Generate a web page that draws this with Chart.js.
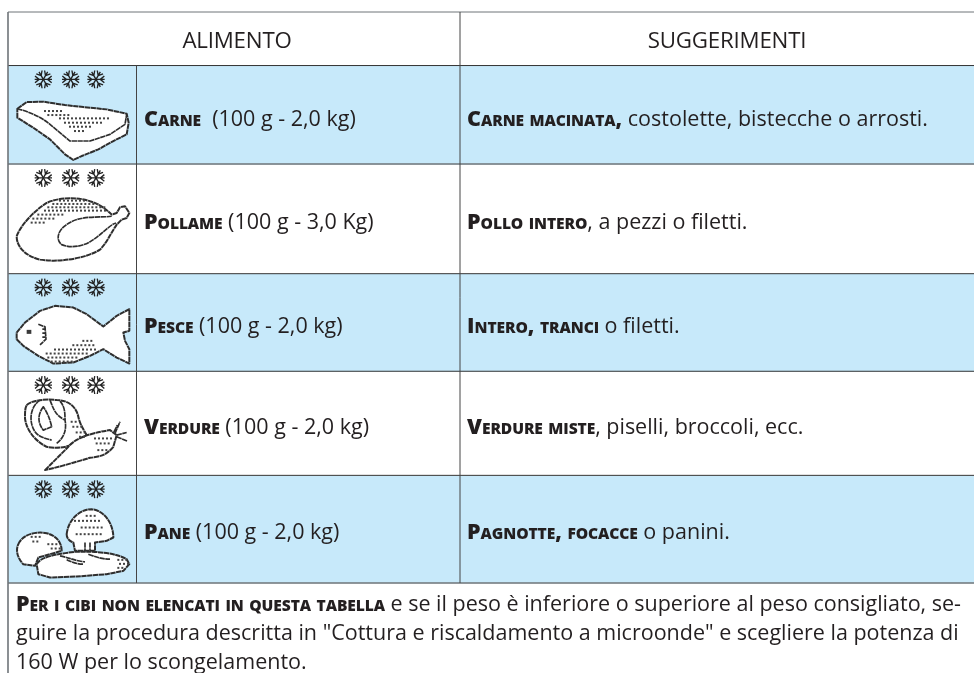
<!DOCTYPE html>
<html lang="it">
<head>
    <meta charset="UTF-8">
    <title>Scongelamento automatico</title>
    <script src="https://cdn.jsdelivr.net/npm/chart.js"></script>
    <style>
        html, body { margin: 0; padding: 0; background: #fff; overflow: hidden; }
        #tabella { display: block; }
    </style>
</head>
<body>
    <canvas id="tabella" width="974" height="673"></canvas>

    <script>
        // Table content
        const headers = ['ALIMENTO', 'SUGGERIMENTI'];
        const foodNames = ['Carne', 'Pollame', 'Pesce', 'Verdure', 'Pane'];
        const foodWeights = ['  (100 g - 2,0 kg)', ' (100 g - 3,0 Kg)', ' (100 g - 2,0 kg)', ' (100 g - 2,0 kg)', ' (100 g - 2,0 kg)'];
        const tipLeads = ['Carne macinata,', 'Pollo intero', 'Intero, tranci', 'Verdure miste', 'Pagnotte, focacce'];
        const tipRests = [' costolette, bistecche o arrosti.', ', a pezzi o filetti.', ' o filetti.', ', piselli, broccoli, ecc.', ' o panini.'];
        const noteLead = 'Per i cibi non elencati in questa tabella';
        const noteLines = [
            ' e se il peso è inferiore o superiore al peso consigliato, se-',
            'guire la procedura descritta in "Cottura e riscaldamento a microonde" e scegliere la potenza di',
            '160 W per lo scongelamento.'
        ];

        // Row heights (header, five foods, note) and column widths
        const rowHeights = [53.5, 98.5, 109.5, 97.5, 104, 107.5, 90];
        const columnWidths = [128.5, 323.5, 514];

        const BLUE = '#c7e9fa';
        const INK = '#231f20';
        const FONT = '"Open Sans", sans-serif';

        // Icons are traced at 3x, from the left of the first column and the top of the row
        const icons = [
            {
                fill: ['M22,128 L50,108 L100,107 L165,117 L220,123 L290,130 L350,143 L356,170 L350,205 L310,225 L265,250 L215,270 L190,282 L165,265 L120,220 L70,185 L22,155 Z'],
                lines: ['M22,128 C50,135 90,150 120,175 L180,225 L240,225 L300,205 L345,175 L350,145'],
                dots: [[135, 105, 155], [147, 115, 185], [157, 150, 295], [170, 165, 280], [182, 180, 250], [195, 195, 230]]
            },
            {
                fill: ['M20,215 C30,185 70,140 110,115 C140,100 200,95 240,110 C270,118 295,140 305,150 L320,145 L330,128 L345,125 L358,145 L350,160 L335,165 L320,180 C300,210 290,235 270,255 C230,280 150,295 90,285 C50,275 20,250 20,215 Z'],
                lines: ['M305,155 C270,160 210,150 170,180 C145,195 135,225 155,240 C190,255 230,240 250,225 C280,205 300,180 318,175'],
                dots: [[108, 150, 230], [118, 130, 270], [128, 115, 285], [138, 105, 290], [150, 85, 165], [162, 70, 135], [174, 65, 105]]
            },
            {
                fill: ['M20,175 L45,145 L90,110 L135,95 L190,100 L230,120 L280,157 L320,125 L358,105 L358,170 L340,175 L345,200 L358,225 L358,268 L320,250 L280,225 L240,245 L190,265 L130,268 L85,245 L40,215 L20,195 Z'],
                lines: ['M85,150 L105,158 L108,195 L90,212', 'M97,165 L107,165 M97,177 L107,177 M97,189 L107,189'],
                blocks: [[50, 167, 14, 12]],
                dots: [[200, 220, 245], [213, 190, 255], [226, 135, 260], [238, 110, 235], [250, 115, 210], [262, 125, 185]]
            },
            {
                fill: ['M50,100 C60,88 100,80 140,85 C180,85 200,110 205,135 C210,160 225,180 230,190 L190,215 C170,230 130,230 110,225 C80,210 50,180 45,140 C45,120 45,110 50,100 Z',
                       'M105,295 L175,225 C190,205 230,185 300,175 L320,190 L310,225 C290,250 270,255 240,258 C200,270 150,285 105,295 Z'],
                lines: ['M90,85 C60,105 55,150 75,180 C85,195 105,200 125,205', 'M100,105 C85,125 80,150 100,175 L125,165 C120,140 110,120 100,105 Z', 'M120,85 C130,110 135,130 165,145 C170,170 165,195 140,215',
                        'M150,88 C165,105 165,125 165,145', 'M315,185 L330,150 M320,190 L350,182 M320,195 L352,208 M312,180 L322,160'],
                dots: [[150, 185, 205], [165, 190, 215], [182, 200, 225], [195, 210, 230], [200, 255, 310], [215, 260, 300], [235, 265, 290]]
            },
            {
                fill: ['M25,205 C35,180 70,165 110,172 C140,180 155,200 155,225 L85,245 L75,270 L40,265 C25,250 15,225 25,205 Z',
                       'M170,175 C175,130 210,100 245,100 C285,105 310,145 310,185 L290,195 L255,200 L255,225 L195,225 L190,200 C175,195 170,185 170,175 Z',
                       'M80,265 C90,245 130,235 195,228 C260,225 320,232 350,250 L358,265 L340,285 L290,295 L200,302 L120,305 L85,295 Z'],
                lines: ['M225,200 L225,225 M240,200 L240,225', 'M150,240 C175,245 195,255 225,258', 'M170,252 C185,258 200,265 220,265', 'M235,235 C260,245 280,250 300,250'],
                dots: [[120, 230, 255], [135, 195, 275], [155, 215, 280], [175, 200, 275], [183, 65, 95], [197, 70, 90], [205, 115, 145], [218, 125, 150], [252, 325, 350], [264, 330, 355], [276, 325, 345]]
            }
        ];

        function setFont(ctx, weight, size, spacing) {
            ctx.font = weight + ' ' + size + 'px ' + FONT;
            ctx.letterSpacing = spacing + 'px';
        }

        // Plain run, returns the x where it ends
        function plainRun(ctx, text, x, y) {
            setFont(ctx, 400, 21.5, 0);
            ctx.fillText(text, x, y);
            return x + ctx.measureText(text).width;
        }

        // Heavy small caps: capitals stay large, lowercase letters become small capitals
        function capsRun(ctx, text, x, y) {
            for (const ch of text) {
                const small = ch !== ch.toUpperCase();
                setFont(ctx, 800, small ? 15.6 : 21.5, small ? -0.1 : 0);
                const glyph = ch.toUpperCase();
                ctx.fillText(glyph, x, y);
                x += ctx.measureText(glyph).width;
            }
            return x;
        }

        function drawSnowflake(ctx, cx, cy) {
            ctx.lineWidth = 4;
            ctx.strokeStyle = '#222';
            for (let i = 0; i < 6; i++) {
                ctx.save();
                ctx.translate(cx, cy);
                ctx.rotate(i * Math.PI / 3 + Math.PI / 6);
                ctx.beginPath();
                ctx.moveTo(0, 0);
                ctx.lineTo(0, -26);
                ctx.moveTo(0, -13);
                ctx.lineTo(-10, -25);
                ctx.moveTo(0, -13);
                ctx.lineTo(10, -25);
                ctx.stroke();
                ctx.restore();
            }
        }

        function drawIcon(ctx, icon, left, top) {
            ctx.save();
            ctx.translate(left, top);
            ctx.scale(1 / 3, 1 / 3);
            [100, 182, 258].forEach(cx => drawSnowflake(ctx, cx, 40));
            ctx.strokeStyle = '#2e2e2e';
            ctx.lineWidth = 6;
            ctx.lineJoin = 'round';
            ctx.setLineDash([16, 1.5]);
            icon.fill.forEach(d => {
                const p = new Path2D(d);
                ctx.fillStyle = '#fff';
                ctx.fill(p);
                ctx.stroke(p);
            });
            ctx.lineWidth = 5;
            icon.lines.forEach(d => ctx.stroke(new Path2D(d)));
            ctx.setLineDash([]);
            ctx.fillStyle = '#3a3a3a';
            (icon.blocks || []).forEach(b => ctx.fillRect(b[0], b[1], b[2], b[3]));
            ctx.fillStyle = '#444';
            icon.dots.forEach(([y, from, to]) => {
                for (let x = from; x <= to; x += 12) {
                    ctx.fillRect(x - 3, y - 3, 6, 6);
                }
            });
            ctx.restore();
        }

        const tablePlugin = {
            id: 'tablePlugin',
            afterDatasetsDraw(chart) {
                const ctx = chart.ctx;
                const area = chart.chartArea;
                const y = chart.scales.y;

                let sum = 0;
                const edges = [0].concat(rowHeights.map(h => (sum += h)));
                const rowY = i => y.getPixelForValue(edges[i]);
                const total = columnWidths.reduce((a, b) => a + b, 0);
                const col1 = area.left + area.width * columnWidths[0] / total;
                const col2 = area.left + area.width * (columnWidths[0] + columnWidths[1]) / total;

                ctx.save();

                // Borders
                edges.slice(0, 7).forEach((e, i) => {
                    const py = rowY(i);
                    const grey = i === 0 || i === 2 || i === 6;
                    ctx.strokeStyle = grey ? '#6f7478' : '#333';
                    ctx.lineWidth = i === 6 || i === 2 ? 1.5 : 1;
                    ctx.beginPath();
                    ctx.moveTo(area.left, py);
                    ctx.lineTo(area.right, py);
                    ctx.stroke();
                });
                ctx.strokeStyle = '#6f7478';
                ctx.lineWidth = 1.6;
                ctx.beginPath();
                ctx.moveTo(area.left, area.top);
                ctx.lineTo(area.left, area.bottom);
                ctx.stroke();
                ctx.lineWidth = 1;
                ctx.strokeStyle = '#444';
                ctx.beginPath();
                ctx.moveTo(col1, rowY(1));
                ctx.lineTo(col1, rowY(6));
                ctx.moveTo(col2, rowY(0));
                ctx.lineTo(col2, rowY(6));
                ctx.stroke();

                // Icons
                icons.forEach((icon, i) => drawIcon(ctx, icon, 10, rowY(i + 1) + 0.5));

                // Header
                ctx.fillStyle = INK;
                ctx.textBaseline = 'alphabetic';
                ctx.textAlign = 'center';
                setFont(ctx, 400, 22.3, -0.2);
                ctx.fillText(headers[0], 237, rowY(0) + 36);
                ctx.fillText(headers[1], 727, rowY(0) + 36);
                ctx.textAlign = 'left';

                // Food rows
                const baselines = [60, 64.5, 59, 62.5, 63.5];
                foodNames.forEach((name, i) => {
                    const base = rowY(i + 1) + baselines[i];
                    const x = capsRun(ctx, name, col1 + 7.5, base);
                    plainRun(ctx, foodWeights[i], x, base);
                    const tx = capsRun(ctx, tipLeads[i], col2 + 7, base);
                    plainRun(ctx, tipRests[i], tx, base);
                });

                // Note under the table
                const noteY = rowY(6);
                const nx = capsRun(ctx, noteLead, area.left + 8, noteY + 28.3);
                plainRun(ctx, noteLines[0], nx, noteY + 28.3);
                plainRun(ctx, noteLines[1], area.left + 8, noteY + 57.3);
                plainRun(ctx, noteLines[2], area.left + 8, noteY + 86.3);

                ctx.restore();
            }
        };

        const rowFills = ['#fff', BLUE, '#fff', BLUE, '#fff', BLUE, '#fff'];

        new Chart(document.getElementById('tabella'), {
            type: 'bar',
            data: {
                labels: ['tabella'],
                datasets: rowHeights.map((h, i) => ({
                    data: [h],
                    backgroundColor: rowFills[i],
                    borderWidth: 0,
                    barPercentage: 1,
                    categoryPercentage: 1
                }))
            },
            options: {
                responsive: false,
                animation: false,
                layout: { padding: { left: 8, top: 12, right: 0, bottom: 0 } },
                plugins: { legend: { display: false }, tooltip: { enabled: false }, title: { display: false } },
                scales: {
                    x: { stacked: true, display: false },
                    y: { stacked: true, display: false, reverse: true, min: 0, max: 660.5 }
                }
            },
            plugins: [tablePlugin]
        });
    </script>
</body>
</html>
